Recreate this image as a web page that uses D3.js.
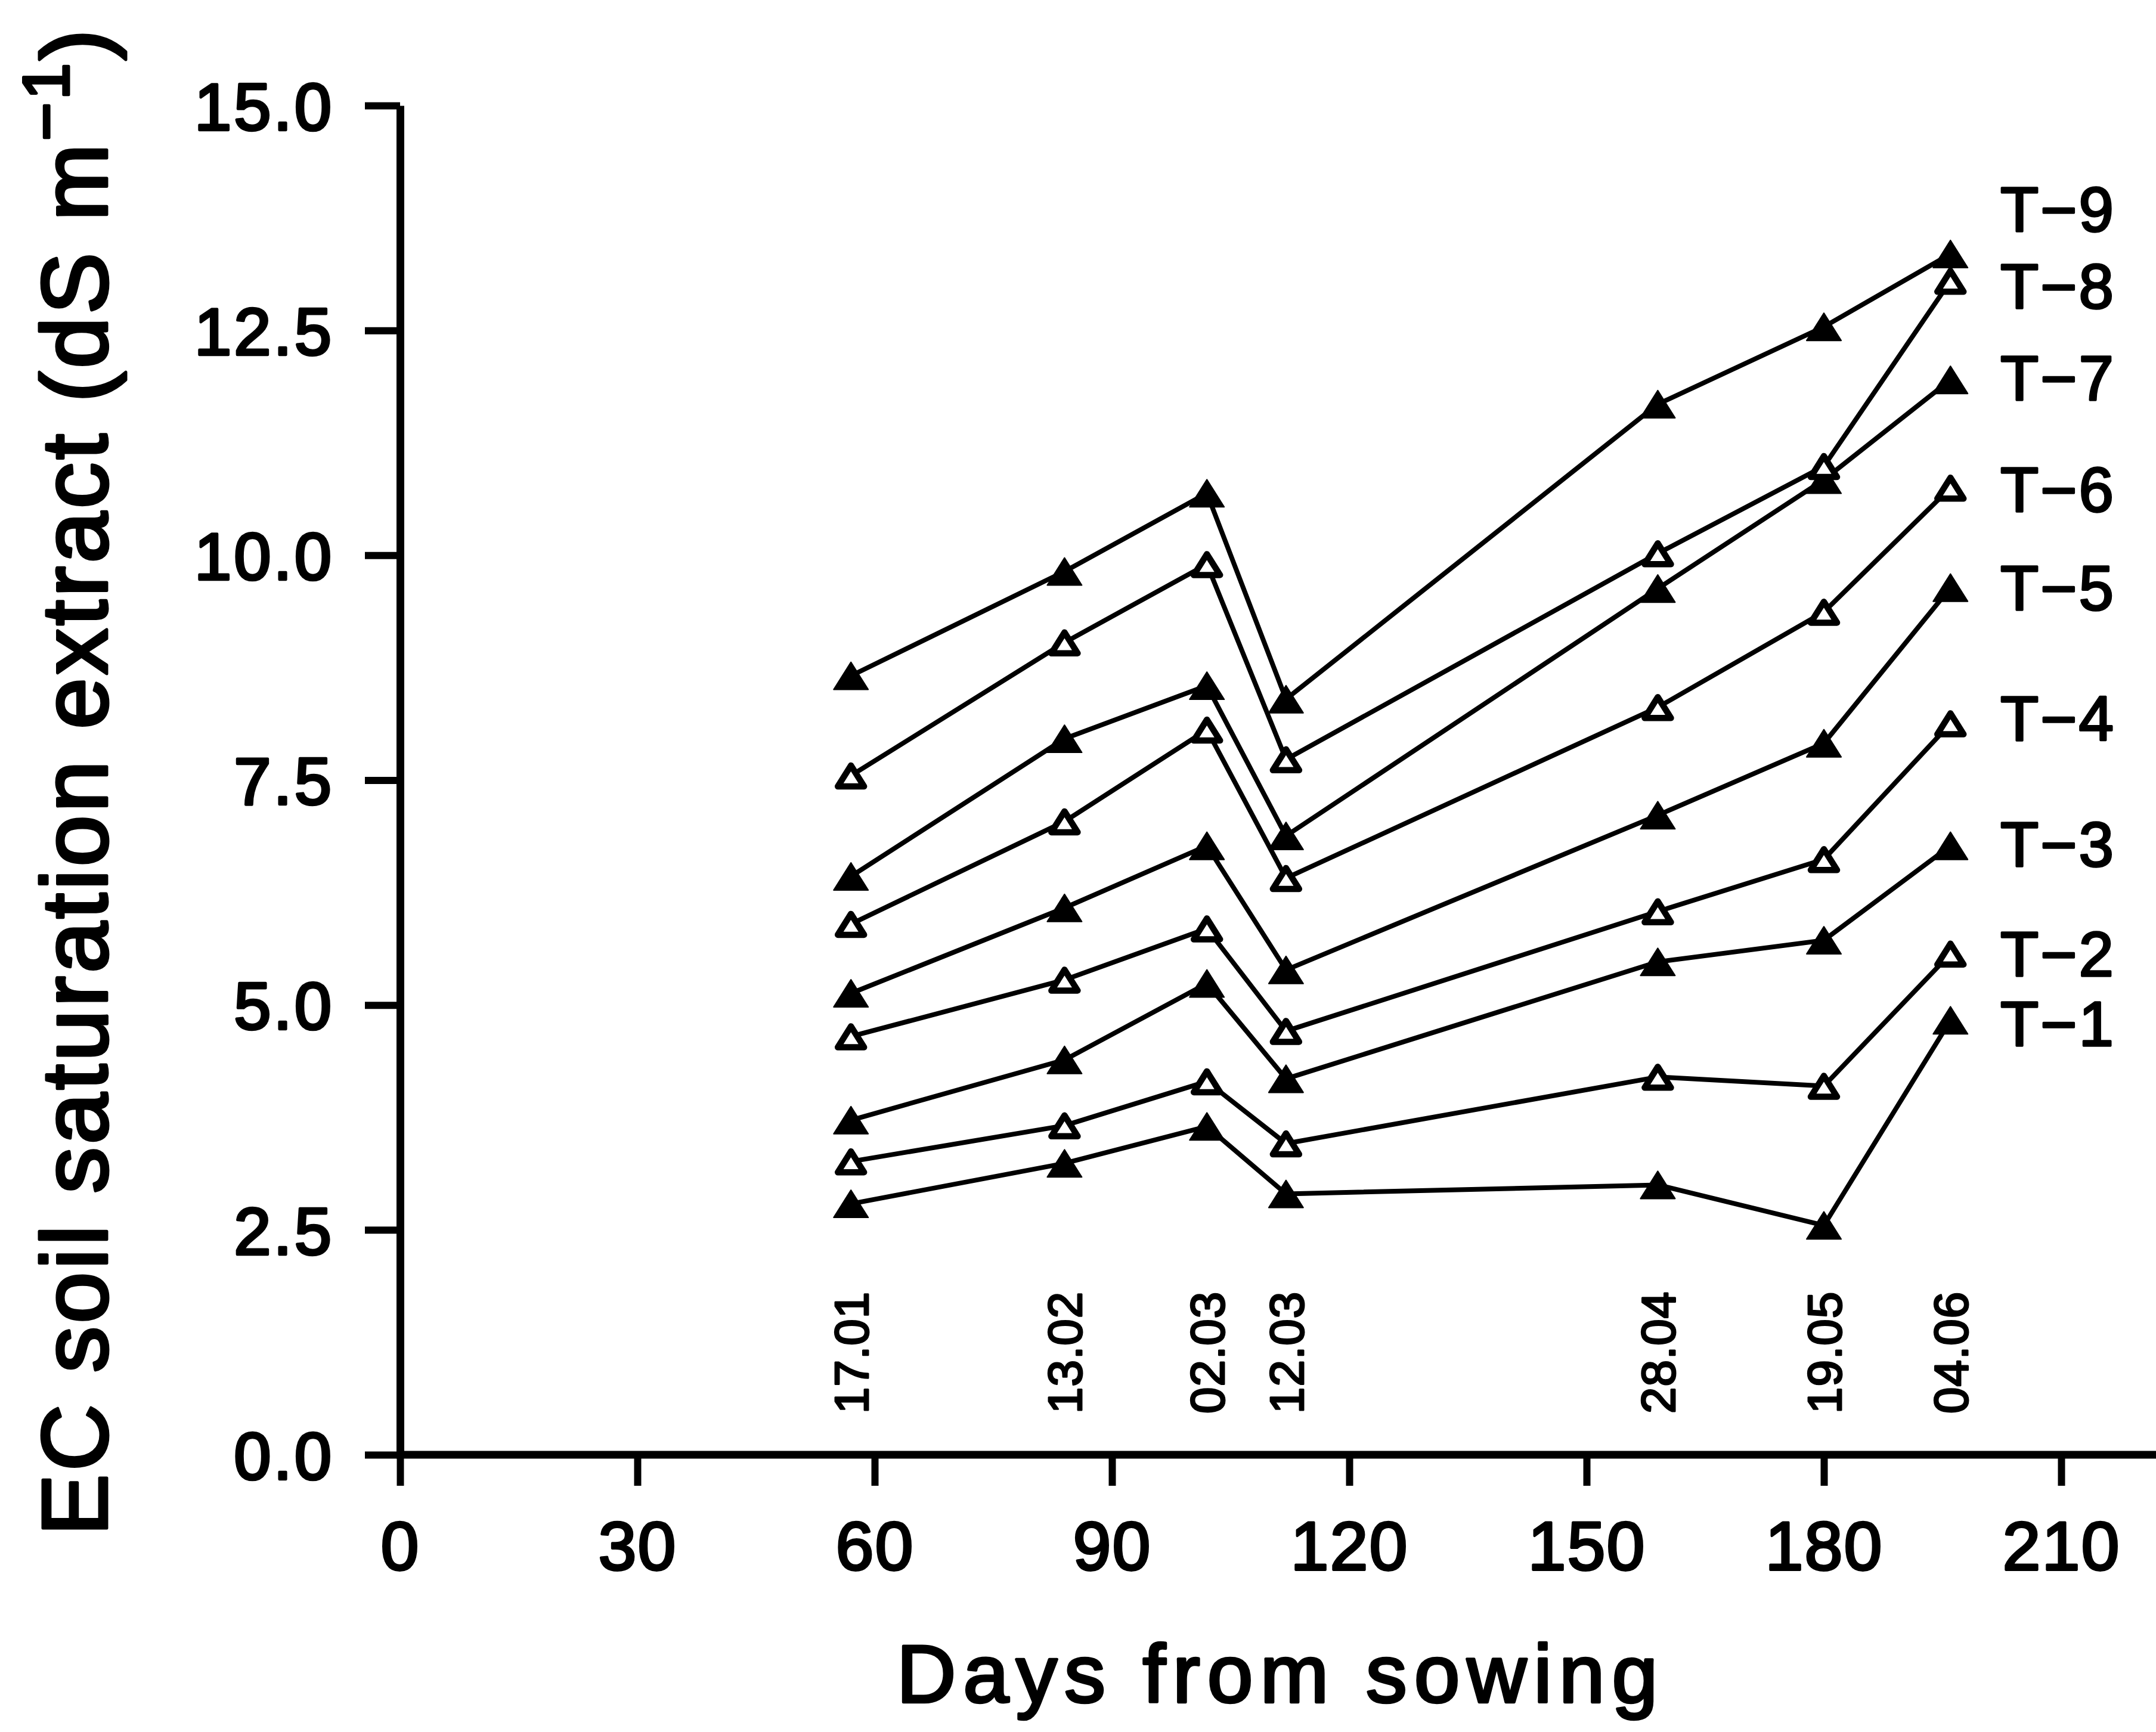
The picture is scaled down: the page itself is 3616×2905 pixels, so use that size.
<!DOCTYPE html>
<html>
<head>
<meta charset="utf-8">
<script src="https://cdn.jsdelivr.net/npm/d3@7"></script>
<style>
  html, body { margin: 0; padding: 0; background: #fff; }
  svg { display: block; }
  text { font-family: "Liberation Sans", Arial, Helvetica, sans-serif; fill: #000; }
</style>
</head>
<body>
<script>
// Sampling dates and days from sowing
const days  = [57, 84, 102, 112, 159, 180, 196];
const dates = ["17.01", "13.02", "02.03", "12.03", "28.04", "19.05", "04.06"];

// EC of the soil saturation extract (dS m-1) per treatment
const t1 = [2.79, 3.24, 3.65, 2.90, 3.00, 2.55, 4.83];
const t2 = [3.26, 3.66, 4.15, 3.46, 4.20, 4.10, 5.57];
const t3 = [3.72, 4.39, 5.24, 4.18, 5.48, 5.72, 6.77];
const t4 = [4.65, 5.28, 5.85, 4.71, 6.04, 6.62, 8.13];
const t5 = [5.13, 6.08, 6.77, 5.39, 7.11, 7.91, 9.64];
const t6 = [5.90, 7.04, 8.06, 6.41, 8.31, 9.37, 10.75];
const t7 = [6.43, 7.96, 8.55, 6.88, 9.63, 10.84, 11.95];
const t8 = [7.55, 9.03, 9.90, 7.73, 10.02, 10.99, 13.05];
const t9 = [8.66, 9.82, 10.69, 8.40, 11.68, 12.54, 13.35];

const seriesNames  = ["T\u22121", "T\u22122", "T\u22123", "T\u22124", "T\u22125", "T\u22126", "T\u22127", "T\u22128", "T\u22129"];
const seriesValues = [t1, t2, t3, t4, t5, t6, t7, t8, t9];
const seriesFilled = [true, false, true, false, true, false, true, false, true];

const xTicks = [0, 30, 60, 90, 120, 150, 180, 210];
const yTicks = [0, 2.5, 5, 7.5, 10, 12.5, 15];

const W = 3616, H = 2905;

const svg = d3.select("body").append("svg")
  .attr("width", W).attr("height", H)
  .attr("viewBox", `0 0 ${W} ${H}`);

svg.append("rect").attr("width", W).attr("height", H).attr("fill", "#fff");

const x = d3.scaleLinear().domain([0, 210]).range([671, 3457]);
const y = d3.scaleLinear().domain([0, 15]).range([2440, 177]);

// ---- y axis ----
const yAxis = svg.append("g")
  .attr("transform", `translate(${x(0)},0)`)
  .call(d3.axisLeft(y).tickValues(yTicks).tickFormat(d3.format(".1f"))
    .tickSize(59).tickSizeOuter(0).tickPadding(52));
yAxis.select(".domain").attr("stroke", "#000").attr("stroke-width", 13);
yAxis.selectAll(".tick line").attr("stroke", "#000").attr("stroke-width", 12);
yAxis.selectAll(".tick text")
  .attr("font-size", 112).attr("dy", "0.36em")
  .attr("font-family", "'Liberation Sans', Arial, sans-serif")
  .attr("letter-spacing", 4)
  .attr("stroke", "#000").attr("stroke-width", 4.5)
  .attr("stroke-linejoin", "round");

// ---- x axis ----
const xAxis = svg.append("g")
  .attr("transform", `translate(0,${y(0)})`)
  .call(d3.axisBottom(x).tickValues(xTicks).tickFormat(d3.format("d"))
    .tickSize(52).tickSizeOuter(0).tickPadding(59));
xAxis.select(".domain").remove();
xAxis.selectAll(".tick line").attr("stroke", "#000").attr("stroke-width", 12);
xAxis.selectAll(".tick text")
  .attr("font-size", 115)
  .attr("font-family", "'Liberation Sans', Arial, sans-serif")
  .attr("letter-spacing", 2)
  .attr("stroke", "#000").attr("stroke-width", 4)
  .attr("stroke-linejoin", "round");
// horizontal axis line runs on to the right edge of the figure
xAxis.append("line")
  .attr("x1", x(0) - 6).attr("x2", W)
  .attr("y1", 0).attr("y2", 0)
  .attr("stroke", "#000").attr("stroke-width", 13);

// ---- axis titles ----
svg.append("text")
  .attr("x", 2148).attr("y", 2855)
  .attr("text-anchor", "middle")
  .attr("font-size", 138)
  .attr("letter-spacing", 12)
  .attr("stroke", "#000").attr("stroke-width", 4.5)
  .attr("stroke-linejoin", "round")
  .text("Days from sowing");

const yTitle = svg.append("text")
  .attr("transform", "translate(179,1310) rotate(-90)")
  .attr("text-anchor", "middle")
  .attr("font-size", 155)
  .attr("letter-spacing", 5)
  .attr("stroke", "#000").attr("stroke-width", 5)
  .attr("stroke-linejoin", "round");
yTitle.append("tspan").text("EC soil saturation extract (dS m");
yTitle.append("tspan").attr("font-size", 110).attr("dy", -64).text("\u22121");
yTitle.append("tspan").attr("dy", 64).text(")");

// ---- sampling date labels ----
svg.append("g").selectAll("text")
  .data(dates)
  .join("text")
  .attr("transform", (d, i) => `translate(${x(days[i])},2371) rotate(-90)`)
  .attr("dy", "0.36em")
  .attr("text-anchor", "start")
  .attr("font-size", 80)
  .attr("letter-spacing", 1)
  .attr("stroke", "#000").attr("stroke-width", 3)
  .attr("stroke-linejoin", "round")
  .text(d => d);

// ---- series lines ----
const line = d3.line()
  .x((d, i) => x(days[i]))
  .y(d => y(d));

svg.append("g").selectAll("path")
  .data(seriesValues)
  .join("path")
  .attr("d", line)
  .attr("fill", "none")
  .attr("stroke", "#000")
  .attr("stroke-width", 8)
  .attr("stroke-linejoin", "round")
  .attr("stroke-linecap", "round");

// ---- triangle markers ----
const TW = 58, TH = 46;
const triFilled = `M0,${-TH / 2}L${TW / 2},${TH / 2}L${-TW / 2},${TH / 2}Z`;
const triOpen = `M0,${-TH / 2 + 6}L${TW / 2 - 7},${TH / 2 - 5}L${-TW / 2 + 7},${TH / 2 - 5}Z`;

seriesValues.forEach((vals, s) => {
  const filled = seriesFilled[s];
  svg.append("g").selectAll("path")
    .data(vals)
    .join("path")
    .attr("transform", (d, i) => `translate(${x(days[i])},${y(d)})`)
    .attr("d", filled ? triFilled : triOpen)
    .attr("fill", filled ? "#000" : "#fff")
    .attr("stroke", "#000")
    .attr("stroke-width", filled ? 2 : 10.5)
    .attr("stroke-linejoin", "round");
});

// ---- series labels at the right end ----
const labelNudge = [5, 0, -3, -9, 0, 2, -4, 8, -76];
svg.append("g").selectAll("text")
  .data(seriesNames)
  .join("text")
  .attr("x", 3355)
  .attr("y", (d, s) => y(seriesValues[s][seriesValues[s].length - 1]) + labelNudge[s])
  .attr("dy", "0.36em")
  .attr("font-size", 105)
  .attr("letter-spacing", 3)
  .attr("stroke", "#000").attr("stroke-width", 3.5)
  .attr("stroke-linejoin", "round")
  .text(d => d);
</script>
</body>
</html>
